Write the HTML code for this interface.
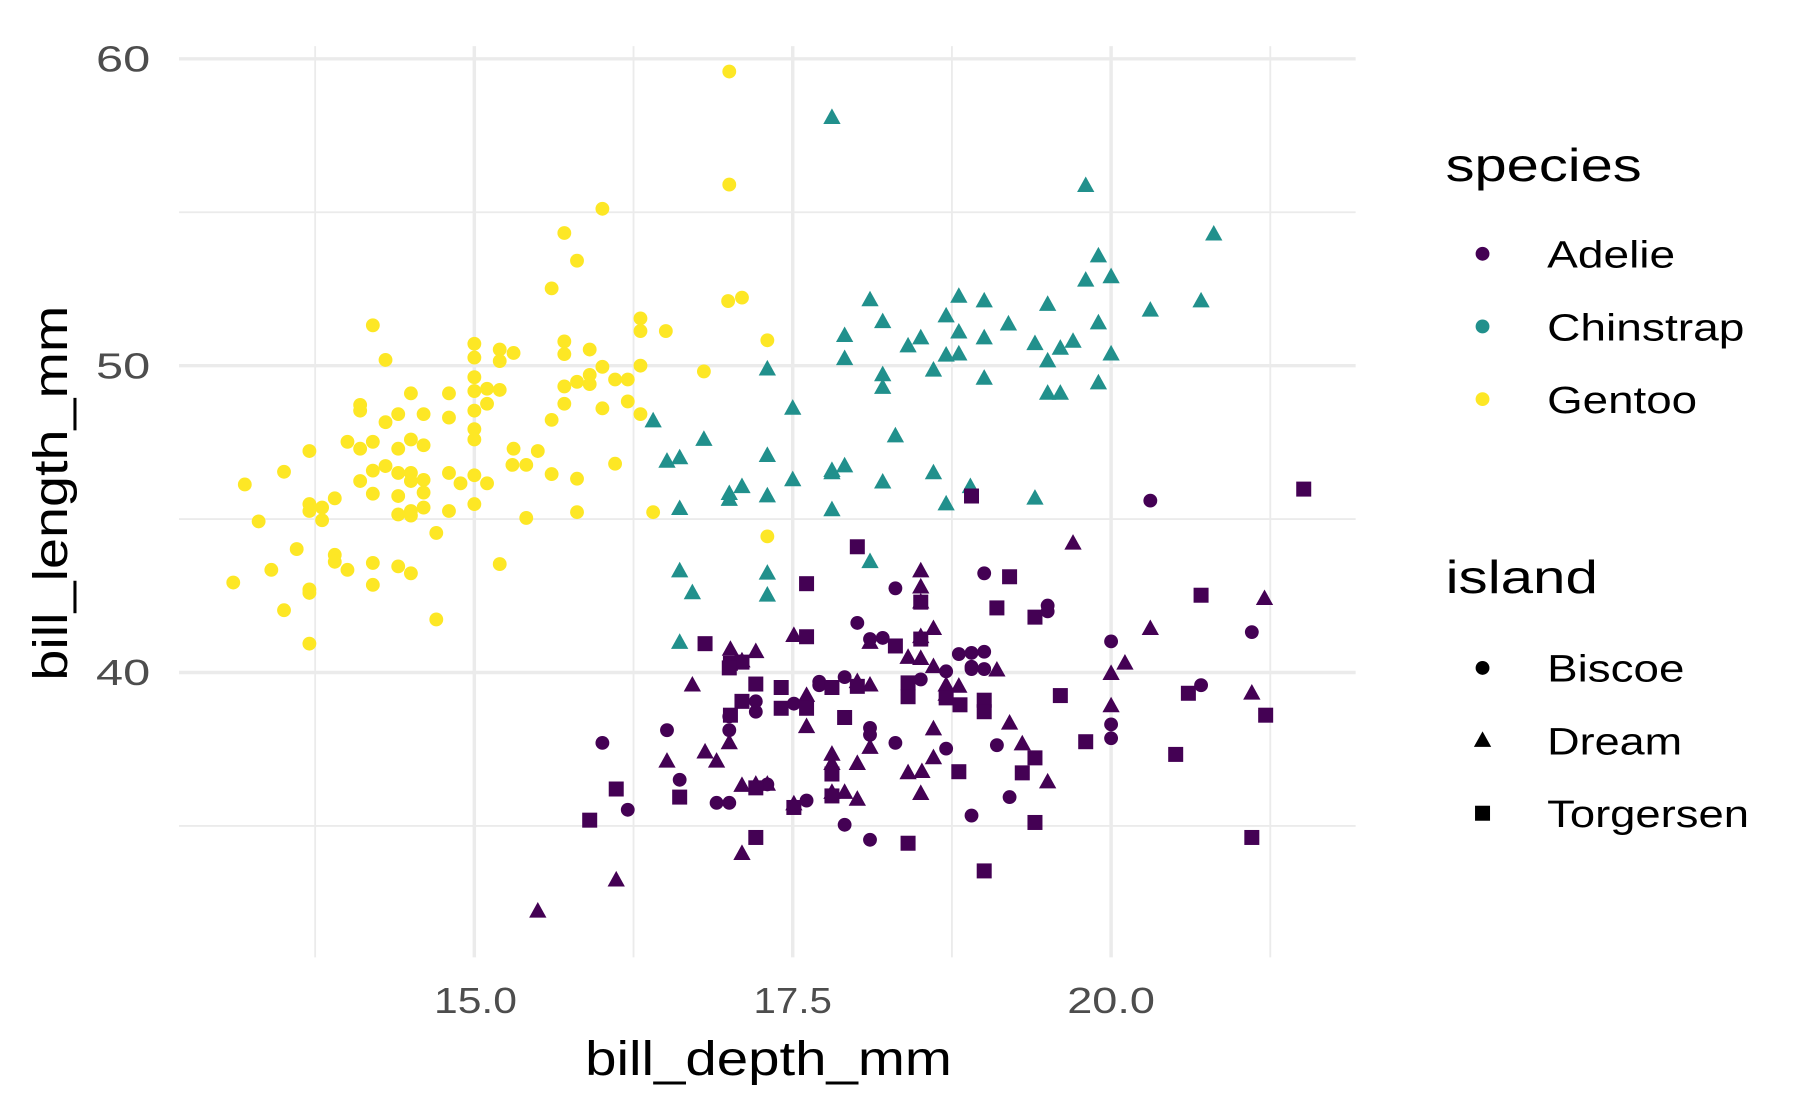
<!DOCTYPE html>
<html><head><meta charset="utf-8"><style>html,body{margin:0;padding:0;background:#fff}svg{display:block}</style></head>
<body>
<svg width="1800" height="1112" viewBox="0 0 1560 964" xmlns="http://www.w3.org/2000/svg" font-family="Liberation Sans, DejaVu Sans, sans-serif">
<defs>
<symbol id="t" overflow="visible"><polygon points="0,-8 7.5,5.5 -7.5,5.5"/></symbol>
<symbol id="s" overflow="visible"><rect x="-6.5" y="-6.5" width="13" height="13"/></symbol>
</defs>
<rect width="1560" height="964" fill="#fff"/>
<g stroke="#ebebeb" stroke-width="1.6">
<line x1="155" x2="1175" y1="184" y2="184"/><line x1="155" x2="1175" y1="450" y2="450"/><line x1="155" x2="1175" y1="716" y2="716"/>
<line x1="273" x2="273" y1="40" y2="830"/><line x1="549" x2="549" y1="40" y2="830"/><line x1="825" x2="825" y1="40" y2="830"/><line x1="1101" x2="1101" y1="40" y2="830"/>
</g>
<g stroke="#ebebeb" stroke-width="3">
<line x1="155" x2="1175" y1="51" y2="51"/><line x1="155" x2="1175" y1="317" y2="317"/><line x1="155" x2="1175" y1="583" y2="583"/>
<line x1="411" x2="411" y1="40" y2="830"/><line x1="687" x2="687" y1="40" y2="830"/><line x1="963" x2="963" y1="40" y2="830"/>
</g>
<g fill="#4d4d4d" font-size="31">
<text x="83" y="62" textLength="47" lengthAdjust="spacingAndGlyphs">60</text><text x="83" y="328" textLength="47" lengthAdjust="spacingAndGlyphs">50</text><text x="83" y="594" textLength="47" lengthAdjust="spacingAndGlyphs">40</text>
<text x="376" y="878" textLength="72" lengthAdjust="spacingAndGlyphs">15.0</text><text x="653" y="878" textLength="68" lengthAdjust="spacingAndGlyphs">17.5</text><text x="925" y="878" textLength="76" lengthAdjust="spacingAndGlyphs">20.0</text>
</g>
<text x="507" y="932" font-size="42" textLength="318" lengthAdjust="spacingAndGlyphs">bill_depth_mm</text>
<text transform="translate(58,590) rotate(-90)" font-size="42" textLength="325" lengthAdjust="spacingAndGlyphs">bill_length_mm</text>
<text x="1253" y="157" font-size="40" textLength="170" lengthAdjust="spacingAndGlyphs">species</text>
<circle cx="1285" cy="220" r="6" fill="#440154"/><text x="1341" y="232" font-size="33" textLength="111" lengthAdjust="spacingAndGlyphs">Adelie</text>
<circle cx="1285" cy="283" r="6" fill="#21908C"/><text x="1341" y="295" font-size="33" textLength="171" lengthAdjust="spacingAndGlyphs">Chinstrap</text>
<circle cx="1285" cy="346" r="6" fill="#FDE725"/><text x="1341" y="358" font-size="33" textLength="130" lengthAdjust="spacingAndGlyphs">Gentoo</text>
<text x="1253" y="514" font-size="40" textLength="132" lengthAdjust="spacingAndGlyphs">island</text>
<circle cx="1285" cy="579" r="6"/><text x="1341" y="591" font-size="33" textLength="119" lengthAdjust="spacingAndGlyphs">Biscoe</text>
<polygon points="1285,634 1292.5,647.5 1277.5,647.5"/><text x="1341" y="654" font-size="33" textLength="117" lengthAdjust="spacingAndGlyphs">Dream</text>
<rect x="1278.5" y="698.5" width="13" height="13"/><text x="1341" y="717" font-size="33" textLength="175" lengthAdjust="spacingAndGlyphs">Torgersen</text>
<g fill="#FDE725">
<circle cx="632" cy="62" r="6"/><circle cx="632" cy="160" r="6"/><circle cx="522" cy="181" r="6"/><circle cx="489" cy="202" r="6"/><circle cx="500" cy="226" r="6"/><circle cx="478" cy="250" r="6"/><circle cx="631" cy="261" r="6"/><circle cx="643" cy="258" r="6"/><circle cx="555" cy="276" r="6"/><circle cx="555" cy="287" r="6"/><circle cx="577" cy="287" r="6"/><circle cx="665" cy="295" r="6"/><circle cx="323" cy="282" r="6"/><circle cx="334" cy="312" r="6"/><circle cx="411" cy="298" r="6"/><circle cx="411" cy="310" r="6"/><circle cx="433" cy="303" r="6"/><circle cx="445" cy="306" r="6"/><circle cx="433" cy="313" r="6"/><circle cx="489" cy="296" r="6"/><circle cx="489" cy="307" r="6"/><circle cx="511" cy="303" r="6"/><circle cx="522" cy="318" r="6"/><circle cx="511" cy="325" r="6"/><circle cx="500" cy="331" r="6"/><circle cx="533" cy="329" r="6"/><circle cx="544" cy="329" r="6"/><circle cx="555" cy="317" r="6"/><circle cx="610" cy="322" r="6"/><circle cx="356" cy="341" r="6"/><circle cx="389" cy="341" r="6"/><circle cx="411" cy="327" r="6"/><circle cx="411" cy="339" r="6"/><circle cx="422" cy="337" r="6"/><circle cx="433" cy="338" r="6"/><circle cx="489" cy="335" r="6"/><circle cx="511" cy="333" r="6"/><circle cx="489" cy="350" r="6"/><circle cx="522" cy="354" r="6"/><circle cx="544" cy="348" r="6"/><circle cx="555" cy="359" r="6"/><circle cx="312" cy="351" r="6"/><circle cx="312" cy="356" r="6"/><circle cx="345" cy="359" r="6"/><circle cx="367" cy="359" r="6"/><circle cx="411" cy="356" r="6"/><circle cx="422" cy="350" r="6"/><circle cx="389" cy="362" r="6"/><circle cx="411" cy="372" r="6"/><circle cx="411" cy="381" r="6"/><circle cx="334" cy="366" r="6"/><circle cx="356" cy="381" r="6"/><circle cx="301" cy="383" r="6"/><circle cx="323" cy="383" r="6"/><circle cx="345" cy="389" r="6"/><circle cx="367" cy="386" r="6"/><circle cx="478" cy="364" r="6"/><circle cx="445" cy="389" r="6"/><circle cx="466" cy="391" r="6"/><circle cx="444" cy="403" r="6"/><circle cx="456" cy="403" r="6"/><circle cx="533" cy="402" r="6"/><circle cx="389" cy="410" r="6"/><circle cx="411" cy="412" r="6"/><circle cx="422" cy="419" r="6"/><circle cx="399" cy="419" r="6"/><circle cx="268" cy="391" r="6"/><circle cx="246" cy="409" r="6"/><circle cx="212" cy="420" r="6"/><circle cx="312" cy="389" r="6"/><circle cx="323" cy="408" r="6"/><circle cx="334" cy="404" r="6"/><circle cx="345" cy="410" r="6"/><circle cx="356" cy="410" r="6"/><circle cx="356" cy="417" r="6"/><circle cx="367" cy="416" r="6"/><circle cx="367" cy="427" r="6"/><circle cx="323" cy="428" r="6"/><circle cx="312" cy="417" r="6"/><circle cx="345" cy="430" r="6"/><circle cx="356" cy="443" r="6"/><circle cx="356" cy="447" r="6"/><circle cx="367" cy="440" r="6"/><circle cx="389" cy="443" r="6"/><circle cx="411" cy="437" r="6"/><circle cx="345" cy="446" r="6"/><circle cx="478" cy="411" r="6"/><circle cx="500" cy="415" r="6"/><circle cx="456" cy="449" r="6"/><circle cx="500" cy="444" r="6"/><circle cx="566" cy="444" r="6"/><circle cx="665" cy="465" r="6"/><circle cx="224" cy="452" r="6"/><circle cx="268" cy="437" r="6"/><circle cx="268" cy="443" r="6"/><circle cx="279" cy="440" r="6"/><circle cx="279" cy="451" r="6"/><circle cx="290" cy="432" r="6"/><circle cx="257" cy="476" r="6"/><circle cx="290" cy="481" r="6"/><circle cx="290" cy="487" r="6"/><circle cx="301" cy="494" r="6"/><circle cx="323" cy="488" r="6"/><circle cx="345" cy="491" r="6"/><circle cx="356" cy="497" r="6"/><circle cx="235" cy="494" r="6"/><circle cx="202" cy="505" r="6"/><circle cx="268" cy="511" r="6"/><circle cx="268" cy="514" r="6"/><circle cx="246" cy="529" r="6"/><circle cx="268" cy="558" r="6"/><circle cx="378" cy="537" r="6"/><circle cx="433" cy="489" r="6"/><circle cx="323" cy="507" r="6"/><circle cx="378" cy="462" r="6"/>
</g>
<g fill="#21908C">
<use href="#t" x="721" y="102"/><use href="#t" x="941" y="161"/><use href="#t" x="1052" y="203"/><use href="#t" x="952" y="222"/><use href="#t" x="754" y="260"/><use href="#t" x="831" y="257"/><use href="#t" x="853" y="261"/><use href="#t" x="765" y="279"/><use href="#t" x="820" y="274"/><use href="#t" x="874" y="281"/><use href="#t" x="908" y="264"/><use href="#t" x="941" y="243"/><use href="#t" x="963" y="240"/><use href="#t" x="997" y="269"/><use href="#t" x="1041" y="261"/><use href="#t" x="732" y="291"/><use href="#t" x="798" y="293"/><use href="#t" x="787" y="300"/><use href="#t" x="831" y="288"/><use href="#t" x="853" y="293"/><use href="#t" x="820" y="308"/><use href="#t" x="831" y="307"/><use href="#t" x="897" y="298"/><use href="#t" x="919" y="302"/><use href="#t" x="930" y="296"/><use href="#t" x="952" y="280"/><use href="#t" x="963" y="307"/><use href="#t" x="732" y="311"/><use href="#t" x="908" y="313"/><use href="#t" x="765" y="325"/><use href="#t" x="765" y="336"/><use href="#t" x="853" y="328"/><use href="#t" x="809" y="321"/><use href="#t" x="665" y="320"/><use href="#t" x="952" y="332"/><use href="#t" x="908" y="341"/><use href="#t" x="919" y="341"/><use href="#t" x="566" y="365"/><use href="#t" x="610" y="381"/><use href="#t" x="687" y="354"/><use href="#t" x="776" y="378"/><use href="#t" x="578" y="400"/><use href="#t" x="589" y="397"/><use href="#t" x="665" y="395"/><use href="#t" x="643" y="422"/><use href="#t" x="632" y="433"/><use href="#t" x="632" y="428"/><use href="#t" x="721" y="408"/><use href="#t" x="732" y="404"/><use href="#t" x="721" y="410"/><use href="#t" x="687" y="416"/><use href="#t" x="765" y="418"/><use href="#t" x="809" y="410"/><use href="#t" x="841" y="422"/><use href="#t" x="897" y="432"/><use href="#t" x="589" y="441"/><use href="#t" x="665" y="430"/><use href="#t" x="721" y="442"/><use href="#t" x="820" y="437"/><use href="#t" x="589" y="495"/><use href="#t" x="600" y="514"/><use href="#t" x="665" y="497"/><use href="#t" x="665" y="516"/><use href="#t" x="754" y="487"/><use href="#t" x="589" y="557"/>
</g>
<g fill="#440154">
<circle cx="997" cy="434" r="6"/><circle cx="853" cy="497" r="6"/><circle cx="776" cy="510" r="6"/><circle cx="908" cy="525" r="6"/><circle cx="908" cy="530" r="6"/><circle cx="743" cy="540" r="6"/><circle cx="765" cy="553" r="6"/><circle cx="754" cy="554" r="6"/><circle cx="963" cy="556" r="6"/><circle cx="1085" cy="548" r="6"/><circle cx="831" cy="567" r="6"/><circle cx="853" cy="565" r="6"/><circle cx="842" cy="578" r="6"/><circle cx="710" cy="591" r="6"/><circle cx="710" cy="594" r="6"/><circle cx="732" cy="587" r="6"/><circle cx="688" cy="610" r="6"/><circle cx="655" cy="608" r="6"/><circle cx="655" cy="617" r="6"/><circle cx="632" cy="621" r="6"/><circle cx="632" cy="633" r="6"/><circle cx="578" cy="633" r="6"/><circle cx="522" cy="644" r="6"/><circle cx="754" cy="631" r="6"/><circle cx="754" cy="637" r="6"/><circle cx="776" cy="644" r="6"/><circle cx="820" cy="649" r="6"/><circle cx="864" cy="646" r="6"/><circle cx="842" cy="566" r="6"/><circle cx="820" cy="582" r="6"/><circle cx="853" cy="580" r="6"/><circle cx="1041" cy="594" r="6"/><circle cx="963" cy="628" r="6"/><circle cx="963" cy="640" r="6"/><circle cx="589" cy="676" r="6"/><circle cx="544" cy="702" r="6"/><circle cx="621" cy="696" r="6"/><circle cx="632" cy="696" r="6"/><circle cx="875" cy="691" r="6"/><circle cx="842" cy="707" r="6"/><circle cx="732" cy="715" r="6"/><circle cx="754" cy="728" r="6"/><circle cx="665" cy="680" r="6"/><circle cx="699" cy="694" r="6"/><circle cx="842" cy="580" r="6"/><circle cx="798" cy="589" r="6"/>
<use href="#t" x="930" y="471"/><use href="#t" x="798" y="495"/><use href="#t" x="798" y="509"/><use href="#t" x="798" y="522"/><use href="#t" x="688" y="551"/><use href="#t" x="754" y="557"/><use href="#t" x="798" y="552"/><use href="#t" x="809" y="545"/><use href="#t" x="655" y="565"/><use href="#t" x="633" y="563"/><use href="#t" x="643" y="573"/><use href="#t" x="600" y="594"/><use href="#t" x="699" y="603"/><use href="#t" x="743" y="591"/><use href="#t" x="754" y="594"/><use href="#t" x="787" y="570"/><use href="#t" x="798" y="571"/><use href="#t" x="809" y="578"/><use href="#t" x="820" y="594"/><use href="#t" x="831" y="595"/><use href="#t" x="864" y="581"/><use href="#t" x="875" y="627"/><use href="#t" x="886" y="645"/><use href="#t" x="997" y="545"/><use href="#t" x="1096" y="519"/><use href="#t" x="975" y="575"/><use href="#t" x="963" y="612"/><use href="#t" x="963" y="584"/><use href="#t" x="1085" y="601"/><use href="#t" x="820" y="602"/><use href="#t" x="809" y="632"/><use href="#t" x="721" y="654"/><use href="#t" x="754" y="648"/><use href="#t" x="743" y="662"/><use href="#t" x="721" y="662"/><use href="#t" x="699" y="630"/><use href="#t" x="632" y="644"/><use href="#t" x="611" y="652"/><use href="#t" x="621" y="660"/><use href="#t" x="578" y="660"/><use href="#t" x="643" y="681"/><use href="#t" x="655" y="680"/><use href="#t" x="665" y="680"/><use href="#t" x="721" y="687"/><use href="#t" x="743" y="693"/><use href="#t" x="732" y="687"/><use href="#t" x="799" y="669"/><use href="#t" x="809" y="657"/><use href="#t" x="787" y="670"/><use href="#t" x="798" y="688"/><use href="#t" x="908" y="678"/><use href="#t" x="688" y="697"/><use href="#t" x="643" y="740"/><use href="#t" x="534" y="763"/><use href="#t" x="466" y="790"/>
<use href="#s" x="1130" y="424"/><use href="#s" x="842" y="430"/><use href="#s" x="743" y="474"/><use href="#s" x="699" y="506"/><use href="#s" x="875" y="500"/><use href="#s" x="864" y="527"/><use href="#s" x="798" y="522"/><use href="#s" x="1041" y="516"/><use href="#s" x="897" y="535"/><use href="#s" x="611" y="558"/><use href="#s" x="699" y="552"/><use href="#s" x="776" y="560"/><use href="#s" x="798" y="554"/><use href="#s" x="633" y="575"/><use href="#s" x="643" y="574"/><use href="#s" x="632" y="579"/><use href="#s" x="655" y="593"/><use href="#s" x="677" y="596"/><use href="#s" x="721" y="596"/><use href="#s" x="743" y="595"/><use href="#s" x="787" y="592"/><use href="#s" x="820" y="605"/><use href="#s" x="832" y="611"/><use href="#s" x="853" y="607"/><use href="#s" x="919" y="603"/><use href="#s" x="1030" y="601"/><use href="#s" x="1097" y="620"/><use href="#s" x="633" y="620"/><use href="#s" x="643" y="608"/><use href="#s" x="677" y="614"/><use href="#s" x="699" y="614"/><use href="#s" x="732" y="622"/><use href="#s" x="853" y="617"/><use href="#s" x="941" y="643"/><use href="#s" x="1019" y="654"/><use href="#s" x="897" y="657"/><use href="#s" x="886" y="670"/><use href="#s" x="831" y="669"/><use href="#s" x="721" y="671"/><use href="#s" x="721" y="690"/><use href="#s" x="787" y="604"/><use href="#s" x="589" y="691"/><use href="#s" x="534" y="684"/><use href="#s" x="511" y="711"/><use href="#s" x="655" y="726"/><use href="#s" x="787" y="731"/><use href="#s" x="853" y="755"/><use href="#s" x="897" y="713"/><use href="#s" x="1085" y="726"/><use href="#s" x="655" y="683"/><use href="#s" x="688" y="700"/>
</g>
</svg>
</body></html>
